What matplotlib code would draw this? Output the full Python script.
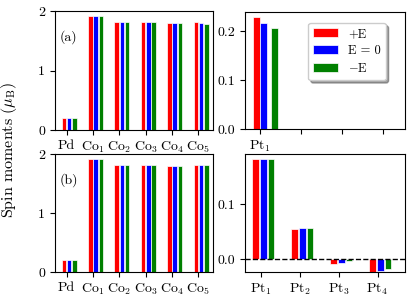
import numpy as np
import matplotlib
matplotlib.use("Agg")
import matplotlib.pyplot as plt

plt.rcParams['font.family'] = ['cmr10', 'DejaVu Serif']
plt.rcParams['mathtext.fontset'] = 'cm'
plt.rcParams['axes.unicode_minus'] = False
plt.rcParams['font.size'] = 10

# data
co_labels = ['Pd', 'Co$_1$', 'Co$_2$', 'Co$_3$', 'Co$_4$', 'Co$_5$']
pt_labels = ['Pt$_1$', 'Pt$_2$', 'Pt$_3$', 'Pt$_4$']

a_plus = [0.21, 1.92, 1.81, 1.81, 1.80, 1.815]
a_zero = [0.21, 1.92, 1.81, 1.81, 1.80, 1.805]
a_minus = [0.21, 1.92, 1.81, 1.81, 1.805, 1.785]
a_pt_plus = [0.230]
a_pt_zero = [0.218]
a_pt_minus = [0.208]

b_plus = [0.21, 1.92, 1.81, 1.81, 1.80, 1.81]
b_zero = [0.21, 1.92, 1.81, 1.81, 1.80, 1.81]
b_minus = [0.21, 1.92, 1.81, 1.81, 1.80, 1.81]
b_pt_plus = [0.182, 0.055, -0.009, -0.030]
b_pt_zero = [0.182, 0.056, -0.007, -0.022]
b_pt_minus = [0.182, 0.057, -0.004, -0.018]

labels = ['+E', 'E = 0', '$-$E']
colors = ['red', 'blue', 'green']
w = 0.17


def bars(ax, series, offsets):
    for vals, off, c, lab in zip(series, offsets, colors, labels):
        x = np.arange(len(vals))
        ax.bar(x + off, vals, w, color=c, edgecolor='white', linewidth=0.5, label=lab)


fig = plt.figure(figsize=(4.16, 2.99), dpi=100)
ax1 = fig.add_axes([0.132, 0.565, 0.380, 0.398])
ax2 = fig.add_axes([0.589, 0.568, 0.385, 0.392])
ax3 = fig.add_axes([0.132, 0.090, 0.380, 0.395])
ax4 = fig.add_axes([0.589, 0.090, 0.385, 0.395])

off = [-0.1, 0.1, 0.3]

# (a)
bars(ax1, [a_plus, a_zero, a_minus], off)
ax1.set_xticks(np.arange(len(co_labels)))
ax1.set_xticklabels(co_labels)
ax1.set_xlim(-0.44, 5.55)
ax1.set_ylim(0, 2)
ax1.set_yticks([0, 1, 2])
ax1.text(0.03, 0.78, '(a)', transform=ax1.transAxes, va='center')

bars(ax2, [a_pt_plus, a_pt_zero, a_pt_minus], [-0.1, 0.09, 0.35])
ax2.set_xticks(np.arange(4))
ax2.set_xticklabels([pt_labels[0], '', '', ''])
ax2.set_xlim(-0.37, 3.54)
ax2.set_ylim(0, 0.24)
ax2.set_yticks([0, 0.1, 0.2])
ax2.set_yticklabels(['0.0', '0.1', '0.2'])
ax2.legend(loc='upper right', bbox_to_anchor=(0.879, 0.906), borderaxespad=0,
           fontsize=9, shadow=True, handlelength=2.0, labelspacing=0.4,
           framealpha=1)

# (b)
bars(ax3, [b_plus, b_zero, b_minus], off)
ax3.set_xticks(np.arange(len(co_labels)))
ax3.set_xticklabels(co_labels)
ax3.set_xlim(-0.44, 5.55)
ax3.set_ylim(0, 2)
ax3.set_yticks([0, 1, 2])
ax3.text(0.03, 0.78, '(b)', transform=ax3.transAxes, va='center')

bars(ax4, [b_pt_plus, b_pt_zero, b_pt_minus], [-0.13, 0.07, 0.27])
ax4.axhline(0, color='k', ls='--', lw=1)
ax4.set_xticks(np.arange(len(pt_labels)))
ax4.set_xticklabels(pt_labels)
ax4.set_xlim(-0.40, 3.71)
ax4.set_ylim(-0.024, 0.192)
ax4.set_yticks([0, 0.1])
ax4.set_yticklabels(['0.0', '0.1'])

fig.text(0.022, 0.5, r'Spin moments ($\mu_{\mathrm{B}}$)', rotation=90,
         va='center', ha='center', fontsize=11.5)

fig.savefig('out.png', dpi=100)
